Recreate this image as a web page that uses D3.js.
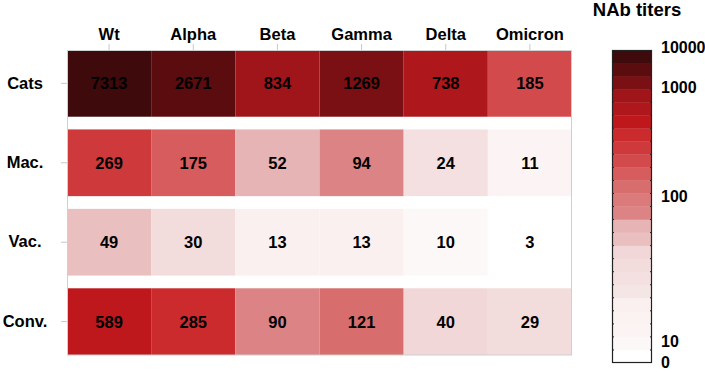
<!DOCTYPE html>
<html>
<head>
<meta charset="utf-8">
<script src="https://cdn.jsdelivr.net/npm/d3@7"></script>
<style>
  html, body { margin: 0; padding: 0; background: #fff; }
  svg { display: block; }
  text { font-family: "Liberation Sans", Arial, sans-serif; font-weight: bold; fill: #000; }
</style>
</head>
<body>
<svg id="chart" width="705" height="372"></svg>
<script>
// ---- data ----
const variants = ["Wt", "Alpha", "Beta", "Gamma", "Delta", "Omicron"];
const groups = ["Cats", "Mac.", "Vac.", "Conv."];
const catsValues = [7313, 2671, 834, 1269, 738, 185];
const macValues  = [269, 175, 52, 94, 24, 11];
const vacValues  = [49, 30, 13, 13, 10, 3];
const convValues = [589, 285, 90, 121, 40, 29];
const groupValues = [catsValues, macValues, vacValues, convValues];

// colour legend: ticks and quantized bins (low -> high)
const legendTicks = [0, 10, 100, 1000, 10000];
const binThresholds = [5, 10.5, 11.5, 12.5, 18, 22, 26, 35, 45, 50.5, 70, 100, 110, 150, 180, 230, 275, 400, 650, 800, 1000, 2000, 5000];
const binColors = [
  "#ffffff", "#fdf8f8", "#fcf4f4", "#fbf2f2", "#fbf0f0", "#f5e6e6", "#f4e0e0", "#f3dcdc",
  "#f2d7d8", "#eabfc0", "#e6b4b4", "#dc8485", "#da7a7b", "#d86d6e", "#d65c5e", "#d24a4c",
  "#ce393c", "#cc2b2e", "#bf181c", "#ae171b", "#a01519", "#7a1013", "#5a0c0f", "#3e0a0b"
];

// ---- build ----
const cells = [];
groups.forEach((g, i) => variants.forEach((v, j) => cells.push({ group: g, variant: v, value: groupValues[i][j] })));

const svg = d3.select("#chart");
const mLeft = 67, mRight = 572, mTop = 50, mBottom = 355;

const x = d3.scaleBand().domain(variants).range([mLeft, mRight]).padding(0);
const y = d3.scaleBand().domain(groups).range([mTop, mBottom]).paddingInner(0.16).paddingOuter(0);
const color = d3.scaleThreshold().domain(binThresholds).range(binColors);

// cells
svg.append("g").selectAll("rect").data(cells).join("rect")
  .attr("x", d => x(d.variant))
  .attr("y", d => y(d.group))
  .attr("width", x.bandwidth())
  .attr("height", y.bandwidth())
  .attr("fill", d => color(d.value));

svg.append("g").selectAll("text").data(cells).join("text")
  .attr("x", d => x(d.variant) + x.bandwidth() / 2)
  .attr("y", d => y(d.group) + y.bandwidth() / 2 + 6)
  .attr("text-anchor", "middle")
  .style("font-size", "16.5px")
  .text(d => d.value);

// frame
svg.append("rect")
  .attr("x", mLeft + 0.5).attr("y", mTop + 0.5)
  .attr("width", mRight - mLeft - 1).attr("height", mBottom - mTop - 0.5)
  .attr("fill", "none").attr("stroke", "#cfcfcf").attr("stroke-width", 1);

// top axis
const xAxis = svg.append("g").attr("transform", `translate(0,${mTop})`)
  .call(d3.axisTop(x).tickSize(6).tickPadding(4));
xAxis.select(".domain").remove();
xAxis.selectAll(".tick line").attr("stroke", "#c8c8c8");
xAxis.selectAll(".tick text")
  .style("font-size", "16.5px")
  .style("font-family", "'Liberation Sans', Arial, sans-serif")
  .style("font-weight", "bold")
  .attr("fill", "#000");

// left axis
const yAxis = svg.append("g").attr("transform", `translate(${mLeft},0)`)
  .call(d3.axisLeft(y).tickSize(6).tickPadding(0));
yAxis.select(".domain").remove();
yAxis.selectAll(".tick line").attr("stroke", "#c8c8c8");
yAxis.selectAll(".tick text")
  .attr("text-anchor", "middle")
  .attr("x", -42)
  .style("font-size", "16.5px")
  .style("font-family", "'Liberation Sans', Arial, sans-serif")
  .style("font-weight", "bold")
  .attr("fill", "#000");

// ---- colour legend ----
const lgX = 612, lgW = 40, lgTop = 50, lgBottom = 363;
const nBins = binColors.length;
const binIdx = d3.range(nBins);
const lgBand = d3.scaleBand().domain(binIdx.slice().reverse()).range([lgTop, lgBottom]);

svg.append("g").selectAll("rect").data(binIdx).join("rect")
  .attr("x", lgX)
  .attr("y", d => lgBand(d))
  .attr("width", lgW)
  .attr("height", lgBand.bandwidth() + 0.3)
  .attr("fill", d => binColors[d]);

// small ticks at bin boundaries
const bounds = binIdx.slice(0, nBins - 1).map(d => lgBand(d));
const tg = svg.append("g").attr("stroke", "#222").attr("stroke-width", 1);
tg.selectAll("line.l").data(bounds).join("line").attr("class", "l")
  .attr("x1", lgX).attr("x2", lgX + 2).attr("y1", d => d).attr("y2", d => d);
tg.selectAll("line.r").data(bounds).join("line").attr("class", "r")
  .attr("x1", lgX + lgW - 2).attr("x2", lgX + lgW).attr("y1", d => d).attr("y2", d => d);

svg.append("rect")
  .attr("x", lgX + 0.5).attr("y", lgTop + 0.5)
  .attr("width", lgW - 1).attr("height", lgBottom - lgTop - 1)
  .attr("fill", "none").attr("stroke", "#222").attr("stroke-width", 1.2);

const lgScale = d3.scaleLinear().domain(legendTicks).range([362, 341, 196, 87, 47]);
svg.append("g").selectAll("text").data(legendTicks).join("text")
  .attr("x", 661)
  .attr("y", d => lgScale(d) + 6)
  .style("font-size", "16px")
  .text(d => d);

svg.append("text")
  .attr("x", 637).attr("y", 16)
  .attr("text-anchor", "middle")
  .style("font-size", "18.5px")
  .text("NAb titers");
</script>
</body>
</html>
